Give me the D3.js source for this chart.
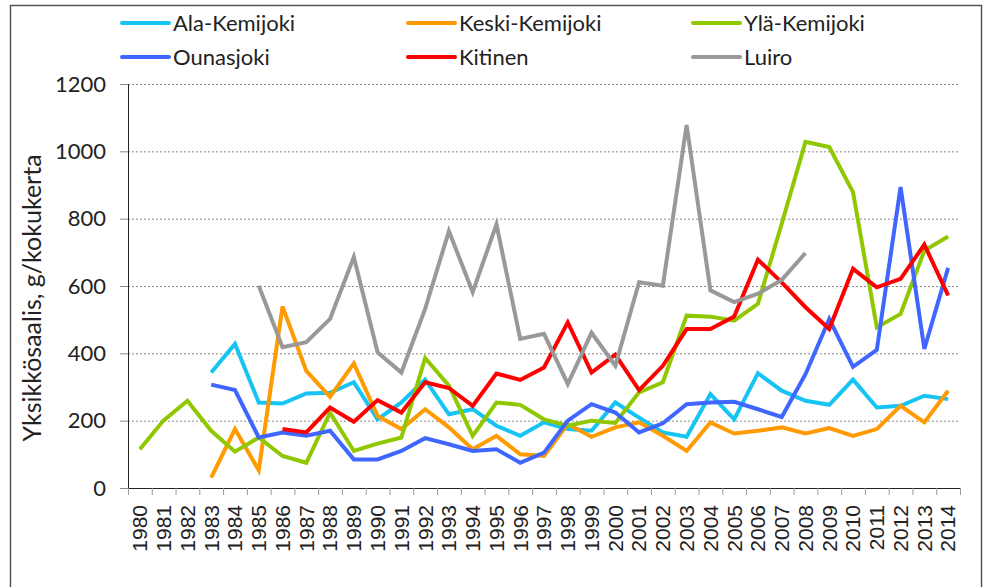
<!DOCTYPE html>
<html>
<head>
<meta charset="utf-8">
<script src="https://cdn.jsdelivr.net/npm/d3@7"></script>
<style>
  body { margin: 0; background: #fff; }
  svg { display: block; }
</style>
</head>
<body>
<div id="vis"></div>
<script>
// data
const YEARS = d3.range(1980, 2015);
const ALA_KEMIJOKI = [null, null, null, 343, 428, 254, 251, 281, 283, 314, 204, 254, 322, 219, 234, 185, 155, 195, 175, 170, 254, 209, 165, 152, 279, 204, 341, 289, 259, 247, 322, 239, 244, 274, 264];
const KESKI_KEMIJOKI = [null, null, null, 31, 175, 53, 539, 348, 271, 370, 214, 175, 234, 180, 115, 155, 100, 95, 190, 152, 180, 195, 155, 110, 195, 162, 170, 180, 162, 178, 155, 175, 244, 195, 289];
const YLA_KEMIJOKI = [115, 201, 259, 170, 108, 150, 95, 75, 224, 110, 132, 150, 386, 304, 155, 254, 247, 204, 185, 200, 193, 284, 314, 512, 509, 497, 547, 785, 1028, 1013, 879, 477, 517, 705, 747];
const OUNASJOKI = [null, null, null, 307, 291, 150, 165, 155, 170, 85, 85, 110, 148, 130, 110, 115, 75, 105, 200, 249, 224, 165, 192, 249, 254, 256, 234, 211, 338, 502, 360, 410, 894, 413, 654];
const KITINEN = [null, null, null, null, null, null, 175, 165, 239, 197, 261, 224, 314, 297, 244, 340, 321, 358, 492, 343, 396, 291, 363, 472, 472, 509, 678, 611, 537, 472, 651, 596, 621, 723, 572];
const LUIRO = [null, null, null, null, null, 601, 418, 433, 502, 686, 403, 343, 532, 763, 582, 783, 443, 458, 309, 461, 363, 611, 601, 1078, 587, 552, 577, 618, 698, null, null, null, null, null, null];
const Y_TICKS = [0, 200, 400, 600, 800, 1000, 1200];

const SERIES = [
  {name: "Ala-Kemijoki", values: ALA_KEMIJOKI, color: "#16c4f4"},
  {name: "Keski-Kemijoki", values: KESKI_KEMIJOKI, color: "#ff9a00"},
  {name: "Ylä-Kemijoki", values: YLA_KEMIJOKI, color: "#8fc800"},
  {name: "Ounasjoki", values: OUNASJOKI, color: "#3f67ff"},
  {name: "Kitinen", values: KITINEN, color: "#ff0000"},
  {name: "Luiro", values: LUIRO, color: "#999999"}
];

const WIDTH = 987;
const HEIGHT = 587;
const MARG = {left: 128, right: 27, top: 84, bottom: 99};

const svg = d3.select("#vis")
  .append("svg")
    .attr("width", WIDTH)
    .attr("height", HEIGHT);

// outer frame
svg.append("rect")
  .attr("x", 10.5).attr("y", 5.5)
  .attr("width", 971).attr("height", 600)
  .attr("fill", "none")
  .attr("stroke", "#555")
  .attr("stroke-width", 1.5);

const X_SCALE = d3.scaleBand()
  .domain(YEARS)
  .range([MARG.left, WIDTH - MARG.right])
  .padding(0);

const Y_SCALE = d3.scaleLinear()
  .domain([0, 1200])
  .range([HEIGHT - MARG.bottom, MARG.top]);

// grid lines
svg.append("g")
  .selectAll("line")
  .data(Y_TICKS.slice(1))
  .enter().append("line")
    .attr("x1", MARG.left).attr("x2", WIDTH - MARG.right)
    .attr("y1", d => Y_SCALE(d) + 0.5).attr("y2", d => Y_SCALE(d) + 0.5)
    .attr("stroke", "#8a8a8a")
    .attr("stroke-dasharray", "2,2");

// y axis
const yAxis = svg.append("g")
  .attr("transform", "translate(" + MARG.left + ",0)")
  .call(d3.axisLeft(Y_SCALE).tickValues(Y_TICKS).tickFormat(d3.format("d")).tickSize(8).tickPadding(14));
yAxis.select(".domain").attr("stroke", "#222");
yAxis.selectAll(".tick line").attr("stroke", "#888");
yAxis.selectAll("text")
  .attr("font-family", "Lato, sans-serif")
  .attr("font-size", "22px")
  .attr("fill", "#222");

// x axis, labels in band centres
const xAxis = svg.append("g")
  .attr("transform", "translate(0," + Y_SCALE(0) + ")")
  .call(d3.axisBottom(X_SCALE).tickSize(0).tickPadding(0));
xAxis.select(".domain").attr("stroke", "#222");
xAxis.selectAll("text")
  .attr("font-family", "Liberation Sans, Arial, sans-serif")
  .attr("font-size", "21px")
  .attr("fill", "#222")
  .attr("text-anchor", "end")
  .attr("transform", "translate(0,17) rotate(-90)")
  .attr("dy", "0.35em")
  .attr("y", 0);

// x ticks on band edges
svg.append("g")
  .selectAll("line")
  .data(YEARS.concat([null]))
  .enter().append("line")
    .attr("x1", d => (d === null ? X_SCALE.range()[1] : X_SCALE(d)) + 0.5)
    .attr("x2", d => (d === null ? X_SCALE.range()[1] : X_SCALE(d)) + 0.5)
    .attr("y1", Y_SCALE(0)).attr("y2", Y_SCALE(0) + 7)
    .attr("stroke", "#999");

// lines
const line = d3.line()
  .defined(d => d.v !== null)
  .x(d => X_SCALE(d.year) + X_SCALE.bandwidth() / 2)
  .y(d => Y_SCALE(d.v));

svg.append("g")
  .selectAll("path")
  .data(SERIES)
  .enter().append("path")
    .attr("d", s => line(YEARS.map((y, i) => ({year: y, v: s.values[i]}))))
    .attr("fill", "none")
    .attr("stroke", s => s.color)
    .attr("stroke-width", 4)
    .attr("stroke-linejoin", "miter")
    .attr("stroke-linecap", "butt");

// y axis title
svg.append("text")
  .attr("transform", "translate(41," + (Y_SCALE(600) + 12) + ") rotate(-90)")
  .attr("text-anchor", "middle")
  .attr("font-family", "Lato, sans-serif")
  .attr("font-size", "25px")
  .attr("fill", "#222")
  .text("Yksikkösaalis, g/kokukerta");

// legend
const LEG_X = [122, 408, 693];
const LEG_Y = [23, 57];
const leg = svg.append("g")
  .selectAll("g")
  .data(SERIES)
  .enter().append("g")
    .attr("transform", (d, i) => "translate(" + LEG_X[i % 3] + "," + LEG_Y[Math.floor(i / 3)] + ")");
leg.append("line")
  .attr("x1", 0).attr("x2", 47)
  .attr("stroke", d => d.color)
  .attr("stroke-width", 4)
  .attr("stroke-linecap", "round");
leg.append("text")
  .attr("x", 51)
  .attr("dy", "0.35em")
  .attr("font-family", "Lato, sans-serif")
  .attr("font-size", "22px")
  .attr("fill", "#222")
  .text(d => d.name);
</script>
</body>
</html>
